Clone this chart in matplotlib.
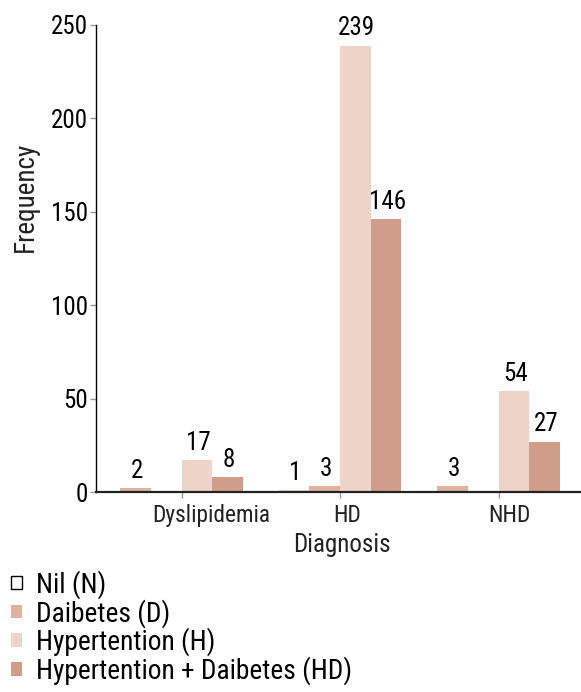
import matplotlib
matplotlib.use("Agg")
import matplotlib.pyplot as plt
from matplotlib.patches import Patch
from matplotlib.transforms import ScaledTranslation, blended_transform_factory
import numpy as np

plt.rcParams['font.family'] = ['Roboto Condensed', 'DejaVu Sans']

# data
diagnoses = ["Dyslipidemia", "HD", "NHD"]
series = ["Nil (N)", "Daibetes (D)", "Hypertention (H)", "Hypertention + Daibetes (HD)"]
nil = [0, 1, 0]
diabetes = [2, 3, 3]
hypertension = [17, 239, 54]
hyp_diab = [8, 146, 27]
yticks = [0, 50, 100, 150, 200, 250]

# style: slot of each series inside a group (as the source chart dodges them)
values = [nil, diabetes, hypertension, hyp_diab]
slots = [[None, 0, None], [0, 1, 0], [2, 2, 2], [3, 3, 3]]
bar_colors = ["#efd5ca", "#e0b1a0", "#eed3c8", "#d09d8b"]
legend_face = ["white", "#e0b1a0", "#eed3c8", "#d09d8b"]
legend_edge = ["black", "none", "none", "none"]

W, H = 581, 692
fig = plt.figure(figsize=(W / 100, H / 100), dpi=100)
ax = fig.add_axes([96 / W, 1 - 492 / H, 1 - 96 / W, (492 - 25) / H])

width = 0.193
x = np.arange(len(diagnoses))
for vals, sl, col in zip(values, slots, bar_colors):
    for i, (v, s) in enumerate(zip(vals, sl)):
        if s is None or v == 0:
            continue
        xpos = x[i] + (s - 1.5) * width
        ax.bar(xpos, v, width=width, color=col, linewidth=0)
        ax.annotate(str(v), (xpos, v), xytext=(1, 4), textcoords="offset points",
                    ha="center", va="bottom", fontsize=18)

ax.set_xlim(-0.54, 2.52)
ax.set_ylim(0, 250)
ax.set_yticks(yticks)
ax.tick_params(axis="y", labelsize=18, length=4, width=1, color="#999999", pad=2)
ax.tick_params(axis="x", length=4, width=1, color="#999999")
ax.set_xticks(x)
ax.set_xticklabels([])
for side in ["top", "right"]:
    ax.spines[side].set_visible(False)
ax.spines["left"].set_linewidth(1.0)
ax.spines["bottom"].set_linewidth(1.6)
ax.spines["bottom"].set_color("#222222")

# category labels, shifted right the way the source renders them
trans = blended_transform_factory(ax.transData, ax.transAxes)
cat_labels = [ax.text(xi, -0.026, name, transform=trans, ha="center", va="top",
                      fontsize=16.8, color="#222222")
              for xi, name in zip(x, diagnoses)]
fig.canvas.draw()
renderer = fig.canvas.get_renderer()
for t in cat_labels:
    w = t.get_window_extent(renderer).width
    t.set_transform(t.get_transform() + ScaledTranslation(w / 4 / 100, 0, fig.dpi_scale_trans))

fig.text(341.5 / W, 1 - 545 / H, "Diagnosis", ha="center", va="center", fontsize=18,
         color="#222222")
fig.text(25 / W, 1 - 197 / H, "Frequency", ha="center", va="center", rotation=90,
         fontsize=19.5, color="#222222")

handles = [Patch(facecolor=f, edgecolor=e, linewidth=1.0)
           for f, e in zip(legend_face, legend_edge)]
fig.legend(handles, series, loc="upper left", bbox_to_anchor=(11 / W, 1 - 570 / H),
           frameon=False, fontsize=19.7, borderpad=0, borderaxespad=0,
           handlelength=0.39, handleheight=0.39, handletextpad=0.54, labelspacing=0.0)

fig.savefig("out.png", dpi=100)
